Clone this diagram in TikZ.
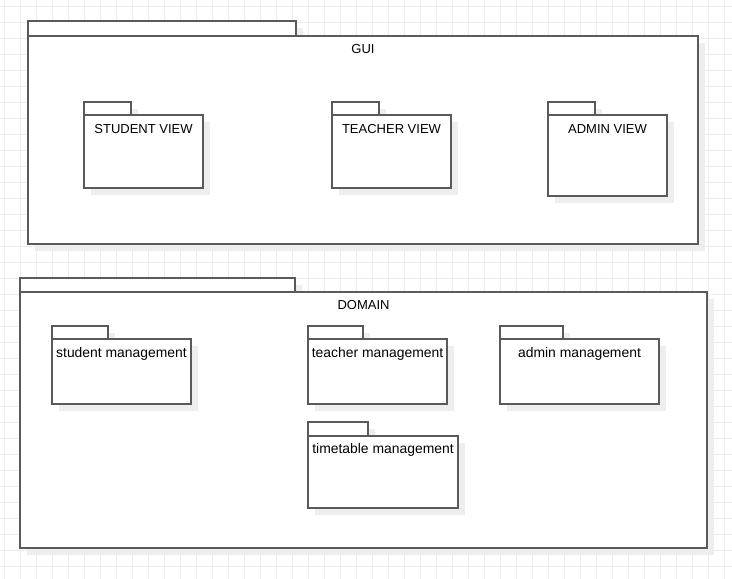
\documentclass[tikz,border=0pt]{standalone}
\usepackage{fontspec}
\setmainfont{Liberation Sans}
\definecolor{gridc}{HTML}{EDEDED}
\definecolor{linec}{HTML}{5A5A5A}
\definecolor{shadowc}{HTML}{EEEEEE}
\tikzset{
  pkgline/.style={draw=linec, line width=1.3pt, fill=white},
  pkgshadow/.style={fill=shadowc, draw=none},
  lbl/.style={font=\fontsize{13}{15}\selectfont, inner sep=0pt, anchor=center},
  lblbig/.style={lbl, font=\fontsize{13.9}{16}\selectfont},
}
% \pkgbox{name}{x1}{tabright}{ytab}{ybody}{x2}{y2}{label}{style}{offset}
\newcommand{\pkgbox}[9]{%
  \fill[pkgshadow] (#2+7,#4+7) rectangle (#3+7,#5+7);
  \fill[pkgshadow] (#2+7,#5+7) rectangle (#6+7,#7+7);
  \draw[pkgline] (#2,#4) rectangle (#3,#5);
  \draw[pkgline] (#2,#5) rectangle (#6,#7);
  \node[#9] (#1) at ({(#2+#6)/2},#5+#8) {\pkglabel};
}
\newcommand{\pkglabel}{}
\begin{document}
\begin{tikzpicture}[x=1pt,y=-1pt]
\useasboundingbox (0,0) rectangle (732,579);
\fill[white] (0,0) rectangle (732,579);
\foreach \i in {0,...,45} {\draw[gridc, line width=0.8pt] (4+16*\i,0) -- (4+16*\i,579);}
\foreach \j in {0,...,36} {\draw[gridc, line width=0.8pt] (0,6.7+16*\j) -- (732,6.7+16*\j);}
% GUI
\renewcommand{\pkglabel}{GUI}
\pkgbox{gui}{28}{296}{21}{36}{698}{244}{13.5}{lbl}
\renewcommand{\pkglabel}{STUDENT VIEW}
\pkgbox{sview}{84}{131}{102}{115}{203}{188}{14}{lbl}
\renewcommand{\pkglabel}{TEACHER VIEW}
\pkgbox{tview}{332}{379}{102}{115}{451}{188}{14}{lbl}
\renewcommand{\pkglabel}{ADMIN VIEW}
\pkgbox{aview}{548}{595}{102}{115}{667}{196}{14}{lbl}
% DOMAIN
\renewcommand{\pkglabel}{DOMAIN}
\pkgbox{domain}{20}{295}{278}{292}{707}{548}{13.5}{lbl}
\renewcommand{\pkglabel}{student management}
\pkgbox{smgmt}{52}{108}{326}{339}{191}{404}{14.5}{lblbig}
\renewcommand{\pkglabel}{teacher management}
\pkgbox{tmgmt}{308}{363}{326}{339}{447}{404}{14.5}{lblbig}
\renewcommand{\pkglabel}{admin management}
\pkgbox{amgmt}{500}{563}{326}{339}{659}{404}{14.5}{lblbig}
\renewcommand{\pkglabel}{timetable management}
\pkgbox{ttmgmt}{308}{368}{422}{436}{458}{508}{14}{lblbig}
\end{tikzpicture}
\end{document}
